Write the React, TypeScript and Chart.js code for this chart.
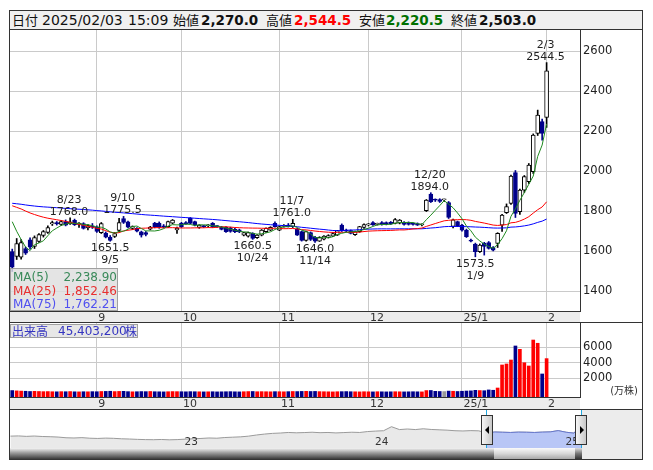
import React, { useEffect, useRef } from 'react';
import { Chart, registerables } from 'chart.js';
Chart.register(...registerables);

// ---------- data ----------
const dates = [
  '8/5','8/6','8/7','8/8','8/9','8/13','8/14','8/15','8/16','8/19','8/20','8/21','8/22','8/23','8/26','8/27','8/28','8/29','8/30',
  '9/2','9/3','9/4','9/5','9/6','9/9','9/10','9/11','9/12','9/13','9/17','9/18','9/19','9/20','9/24','9/25','9/26','9/27','9/30',
  '10/1','10/2','10/3','10/4','10/7','10/8','10/9','10/10','10/11','10/15','10/16','10/17','10/18','10/21','10/22','10/23','10/24','10/25','10/28','10/29','10/30','10/31',
  '11/1','11/5','11/6','11/7','11/8','11/11','11/12','11/13','11/14','11/15','11/18','11/19','11/20','11/21','11/22','11/25','11/26','11/27','11/28','11/29',
  '12/2','12/3','12/4','12/5','12/6','12/9','12/10','12/11','12/12','12/13','12/16','12/17','12/18','12/19','12/20','12/23','12/24','12/25','12/26','12/27','12/30',
  '1/6','1/7','1/8','1/9','1/10','1/14','1/15','1/16','1/17','1/20','1/21','1/22','1/23','1/24','1/27','1/28','1/29','1/30','1/31',
  '2/3',
];
const opens = [
  1600,1575,1572,1615,1658,1625,1650,1680,1695,1738,1745,1736,1750,1738,1756,1735,1740,1718,1728,
  1722,1694,1692,1672,1676,1705,1765,1748,1715,1716,1698,1695,1712,1742,1742,1728,1724,1742,1708,
  1741,1745,1766,1749,1720,1726,1728,1741,1726,1722,1721,1718,1711,1708,1682,1677,1691,1669,1682,1699,1707,1741,
  1707,1726,1732,1724,1711,1699,1655,1694,1671,1652,1662,1672,1677,1682,1732,1707,1704,1684,1699,1720,
  1733,1745,1736,1745,1745,1746,1741,1742,1746,1745,1738,1740,1733,1804,1887,1858,1860,1858,1845,1725,1749,
  1732,1707,1657,1637,1599,1641,1644,1619,1641,1732,1794,1841,1994,1799,1907,1949,1999,2191,2249,
  2270,
];
const highs = [
  1612,1665,1660,1622,1668,1678,1690,1705,1728,1752,1750,1755,1758,1768,1762,1745,1744,1735,1740,
  1728,1745,1698,1680,1695,1766,1775.5,1752,1728,1720,1702,1700,1726,1746,1748,1735,1752,1760,1722,
  1746,1750,1770,1752,1734,1730,1735,1745,1730,1726,1724,1722,1716,1712,1696,1697,1694,1685,1710,1718,1724,1748,
  1727,1735,1740,1761,1716,1702,1702,1698,1676,1674,1680,1684,1694,1706,1738,1712,1708,1702,1726,1738,
  1740,1750,1742,1750,1748,1750,1765,1760,1750,1748,1742,1743,1738,1860,1894,1863,1864,1862,1850,1762,1752,
  1736,1712,1662,1642,1638,1646,1650,1624,1694,1786,1838,1982,2005,1912,1980,2040,2188,2307,2262,
  2544.5,
];
const lows = [
  1500,1560,1562,1585,1612,1615,1645,1672,1690,1730,1732,1730,1728,1735,1730,1720,1712,1708,1715,
  1695,1690,1668,1651.5,1670,1698,1740,1718,1710,1698,1672,1678,1708,1718,1716,1718,1720,1738,1691,
  1720,1735,1738,1728,1716,1720,1722,1720,1720,1708,1696,1696,1694,1694,1678,1672,1660.5,1665,1678,1696,1704,1722,
  1704,1722,1722,1720,1680,1652,1652,1655,1646,1650,1658,1668,1674,1680,1700,1698,1688,1680,1696,1716,
  1728,1730,1732,1732,1733,1735,1738,1738,1732,1732,1732,1730,1728,1800,1845,1850,1845,1850,1765,1718,1724,
  1702,1670,1648,1573.5,1595,1582,1612,1603,1620,1700,1790,1836,1770,1785,1895,1940,1990,2180,2157,
  2220.5,
];
const closes = [
  1522,1640,1645,1592,1622,1670,1684,1700,1720,1744,1738,1750,1732,1748,1734,1742,1716,1730,1722,
  1700,1740,1672,1656,1690,1744,1745,1722,1724,1702,1682,1685,1722,1722,1720,1722,1750,1757,1716,
  1724,1738,1741,1732,1732,1724,1730,1724,1724,1711,1699,1700,1699,1698,1694,1694,1666,1682,1707,1716,1721,1724,
  1724,1730,1724,1741,1682,1656,1699,1660,1652,1671,1677,1680,1690,1704,1704,1702,1690,1699,1724,1735,
  1735,1733,1738,1735,1736,1738,1760,1757,1735,1736,1736,1732,1734,1857,1849,1857,1850,1858,1770,1758,1727,
  1707,1674,1652,1599,1632,1626,1616,1607,1691,1782,1824,1977,1791,1907,1974,2032,2182,2282,2191,
  2503,
];
// closes before the first visible day (feed the moving averages' first values)
const priorCloses = [
  1820,1835,1850,1842,1860,1855,1838,1829,1841,1852,1866,1870,1858,1846,1833,1828,1840,1851,1862,1857,
  1849,1836,1842,1855,1868,1872,1860,1848,1839,1831,1826,1838,1847,1853,1861,1858,1844,1837,1842,1850,
  1856,1849,1841,1835,1843,1852,1860,1855,1848,1842,
  1838,1845,1852,1860,1868,1862,1855,1847,1840,1836,1843,1850,1858,1865,1860,1852,1845,1838,1832,1825,
  1880,1850,1780,1713,
];
// volume in 万株
const volumes = [
  420,380,350,330,300,320,300,280,290,270,260,280,270,290,260,250,270,260,280,
  270,300,310,330,290,310,320,280,260,270,290,280,300,270,260,250,270,290,280,
  270,260,280,270,260,250,260,270,250,260,270,280,260,250,270,290,300,270,280,270,260,280,
  270,260,280,300,290,310,320,300,310,280,270,260,250,270,280,290,270,260,250,270,
  260,250,270,260,250,260,270,260,250,260,270,260,250,420,430,320,300,290,350,330,300,
  330,360,380,450,420,400,500,460,750,3720,3850,4360,6170,5740,4010,3590,6940,6520,2560,
  4540,
];
const monthTicks = [19, 38, 60, 80, 101, 120];
const monthLabels = ['9', '10', '11', '12', '25/1', '2'];
const priceTicks = [1400, 1600, 1800, 2000, 2200, 2400, 2600];
const volumeTicks = [2000, 4000, 6000];
const highMarks = [13, 25, 63, 94, 120];
const lowMarks = [22, 54, 68, 104];
// long-range navigator (half-month steps from Feb 2022)
const navStart = 1.1;
const navValues = [
  1380,1400,1360,1390,1350,1330,1300,1240,1220,1250,1200,1180,1210,1190,1150,1130,1100,1080,1070,1090,
  1060,1080,1120,1150,1180,1220,1200,1260,1290,1320,1380,1480,1560,1620,1650,1700,1670,1690,1720,1680,
  1700,1660,1690,1720,1700,1780,1820,1850,2200,1950,2000,1950,2020,1960,1930,1900,1850,1830,1860,1840,
  1650,1740,1720,1700,1730,1720,1700,1730,1750,1860,1720,1640,2503,
];
const navYears = ['23', '24', '25'];
const navYearPos = [12, 24, 36];
const navWindowFrom = 60;

const N_PAD = 7;
const GRID = '#cacaca';
const FONT = '"DejaVu Sans", "Noto Sans CJK JP", sans-serif';
const CJK = '"Noto Sans CJK JP", "DejaVu Sans", sans-serif';

function movingAverage(n: number) {
  const all = priorCloses.concat(closes);
  const off = priorCloses.length;
  return closes.map((_, i) => {
    let s = 0;
    for (let k = 0; k < n; k++) s += all[off + i - k];
    return s / n;
  });
}

const labels = [...dates, ...Array(N_PAD).fill('')];

function xScale(h: number) {
  return {
    type: 'category',
    offset: true,
    grid: {
      offset: false,
      drawTicks: false,
      color: (c: any) => (monthTicks.includes(c.index) ? GRID : 'rgba(0,0,0,0)'),
    },
    border: { display: true, color: '#333' },
    ticks: {
      autoSkip: false,
      maxRotation: 0,
      minRotation: 0,
      padding: 1,
      align: 'start',
      labelOffset: 1.5,
      color: '#333',
      font: { family: FONT, size: 11 },
      callback: (_v: any, i: number) => {
        const k = monthTicks.indexOf(i);
        return k >= 0 ? monthLabels[k] : '';
      },
    },
    afterFit: (s: any) => {
      s.height = h;
      s.paddingLeft = 0;
      s.paddingRight = 0;
    },
  };
}

function bandPlugin(id: string) {
  return {
    id,
    beforeDraw(chart: any) {
      const { ctx, chartArea: ca } = chart;
      ctx.save();
      ctx.fillStyle = '#ececec';
      ctx.fillRect(ca.left, ca.bottom, ca.right - ca.left, chart.height - ca.bottom);
      ctx.restore();
    },
  };
}

const annotPlugin = {
  id: 'annot',
  afterDatasetsDraw(chart: any) {
    const { ctx } = chart;
    const xs = chart.scales.x, ys = chart.scales.y;
    ctx.save();
    ctx.font = `11px ${FONT}`;
    ctx.textAlign = 'center';
    ctx.textBaseline = 'alphabetic';
    ctx.fillStyle = '#222';
    for (const i of highMarks) {
      const px = xs.getPixelForValue(i) - 1;
      const py = ys.getPixelForValue(highs[i]);
      ctx.fillText(highs[i].toFixed(1), px, py - 3);
      ctx.fillText(dates[i], px, py - 15);
    }
    for (const i of lowMarks) {
      const px = xs.getPixelForValue(i);
      const py = ys.getPixelForValue(lows[i]);
      ctx.fillText(lows[i].toFixed(1), px, py + 10);
      ctx.fillText(dates[i], px, py + 22);
    }
    ctx.restore();
  },
};

const unitPlugin = {
  id: 'unit',
  afterDraw(chart: any) {
    const { ctx } = chart;
    ctx.save();
    ctx.font = `10px ${FONT}`;
    ctx.textAlign = 'right';
    ctx.fillStyle = '#333';
    ctx.fillText('(万株)', chart.width - 5, 71);
    ctx.restore();
  },
};

const navPlugin = {
  id: 'navlabels',
  afterDatasetsDraw(chart: any) {
    const { ctx } = chart;
    const xs = chart.scales.x;
    ctx.save();
    ctx.font = `10.5px ${FONT}`;
    ctx.textAlign = 'left';
    ctx.fillStyle = '#333';
    navYears.forEach((t, k) => ctx.fillText(t, xs.getPixelForValue(navYearPos[k]) + 1, 35));
    ctx.restore();
  },
};

export default function App() {
  const priceRef = useRef<HTMLCanvasElement>(null);
  const volRef = useRef<HTMLCanvasElement>(null);
  const navRef = useRef<HTMLCanvasElement>(null);

  useEffect(() => {
    const up = closes.map((c, i) => c >= opens[i]);
    const ma5 = movingAverage(5);
    const ma25 = movingAverage(25);
    const ma75 = movingAverage(75);

    const price = new Chart(priceRef.current!, {
      type: 'bar',
      data: {
        labels,
        datasets: [
          { type: 'line', data: ma5, borderColor: '#1f8a1f', borderWidth: 1, pointRadius: 0, order: 1 } as any,
          { type: 'line', data: ma25, borderColor: '#ff0000', borderWidth: 1, pointRadius: 0, order: 1 } as any,
          { type: 'line', data: ma75, borderColor: '#0000ff', borderWidth: 1, pointRadius: 0, order: 1 } as any,
          {
            type: 'bar',
            data: opens.map((o, i) => [o, closes[i]]),
            backgroundColor: up.map((u) => (u ? '#ffffff' : '#00008b')),
            borderColor: up.map((u) => (u ? '#000000' : '#00008b')),
            borderWidth: 1,
            borderSkipped: false,
            barThickness: 4,
            minBarLength: 1,
            grouped: false,
            order: 2,
          } as any,
          {
            type: 'bar',
            data: highs.map((h, i) => [lows[i], h]),
            backgroundColor: up.map((u) => (u ? '#000000' : '#00008b')),
            barThickness: 1,
            grouped: false,
            order: 3,
          } as any,
        ],
      },
      options: {
        responsive: false,
        animation: false,
        devicePixelRatio: 1,
        layout: { padding: 0 },
        plugins: { legend: { display: false }, tooltip: { enabled: false } },
        scales: {
          x: xScale(12) as any,
          y: {
            type: 'linear',
            position: 'right',
            min: 1302.5,
            max: 2707.5,
            afterBuildTicks: (s: any) => {
              s.ticks = priceTicks.map((v) => ({ value: v }));
            },
            grid: { color: GRID, drawTicks: false },
            border: { display: true, color: '#333' },
            ticks: { padding: 3, color: '#222', font: { family: FONT, size: 11.5 }, callback: (v: any) => String(v) },
            afterFit: (s: any) => {
              s.width = 63;
              s.paddingTop = 0;
              s.paddingBottom = 0;
            },
          } as any,
        },
      },
      plugins: [bandPlugin('band1'), annotPlugin],
    });

    const vol = new Chart(volRef.current!, {
      type: 'bar',
      data: {
        labels,
        datasets: [
          {
            data: volumes,
            base: -410,
            backgroundColor: closes.map((c, i) => (c > opens[i] ? '#ff0000' : c < opens[i] ? '#00008b' : '#999999')),
            barThickness: 3,
          } as any,
        ],
      },
      options: {
        responsive: false,
        animation: false,
        devicePixelRatio: 1,
        layout: { padding: 0 },
        plugins: { legend: { display: false }, tooltip: { enabled: false } },
        scales: {
          x: xScale(13) as any,
          y: {
            type: 'linear',
            position: 'right',
            min: -410,
            max: 9135,
            afterBuildTicks: (s: any) => {
              s.ticks = volumeTicks.map((v) => ({ value: v }));
            },
            grid: { color: GRID, drawTicks: false },
            border: { display: true, color: '#333' },
            ticks: { padding: 3, color: '#222', font: { family: FONT, size: 11.5 }, callback: (v: any) => String(v) },
            afterFit: (s: any) => {
              s.width = 63;
              s.paddingTop = 0;
              s.paddingBottom = 0;
            },
          } as any,
        },
      },
      plugins: [bandPlugin('band2'), unitPlugin],
    });

    const navPts = navValues.map((v, i) => ({ x: navStart + i * 0.5, y: v }));
    const nav = new Chart(navRef.current!, {
      type: 'line',
      data: {
        datasets: [
          {
            data: navPts.slice(navWindowFrom),
            borderColor: '#6677cc',
            backgroundColor: '#b8c6f6',
            fill: 'start',
            borderWidth: 1,
            pointRadius: 0,
            order: 0,
          },
          { data: navPts, borderColor: '#9a9a9a', backgroundColor: '#e9e9e9', fill: 'start', borderWidth: 1, pointRadius: 0, order: 1 },
        ],
      },
      options: {
        responsive: false,
        animation: false,
        devicePixelRatio: 1,
        layout: { padding: 0 },
        plugins: { legend: { display: false }, tooltip: { enabled: false } },
        scales: {
          x: { type: 'linear', display: false, min: 1.07, max: 37.1 },
          y: { type: 'linear', display: false, min: 350, max: 3650 },
        },
      },
      plugins: [navPlugin],
    });

    return () => {
      price.destroy();
      vol.destroy();
      nav.destroy();
    };
  }, []);

  const abs = (l: number, t: number, w: number, h: number, extra: any = {}) => ({
    position: 'absolute' as const,
    left: l,
    top: t,
    width: w,
    height: h,
    ...extra,
  });
  const hdr = (l: number, text: string, kind: 'cjk' | 'num' | 'bold', color = '#111') => (
    <span
      style={{
        position: 'absolute',
        left: l,
        top: 11,
        fontFamily: kind === 'cjk' ? CJK : FONT,
        fontSize: kind === 'cjk' ? 13 : kind === 'bold' ? 13.5 : 14,
        lineHeight: '18px',
        fontWeight: kind === 'bold' ? 'bold' : 'normal',
        color,
        whiteSpace: 'nowrap',
      }}
    >
      {text}
    </span>
  );
  const maRow = (top: number, name: string, value: string, color: string) => (
    <div style={{ position: 'absolute', left: 2, top, width: 104, height: 14, color, fontSize: 12, lineHeight: '14px' }}>
      <span>{name}</span>
      <span style={{ position: 'absolute', right: 0 }}>{value}</span>
    </div>
  );

  return (
    <div style={abs(0, 0, 653, 470, { background: '#fff', fontFamily: FONT, overflow: 'hidden' })}>
      {/* header */}
      <div style={abs(9, 10, 634, 20, { background: '#f0f0f0', boxSizing: 'border-box', borderBottom: '1px solid #333' })} />
      {hdr(12, '日付', 'cjk')}
      {hdr(42, '2025/02/03', 'num')}
      {hdr(128, '15:09', 'num')}
      {hdr(173, '始値', 'cjk')}
      {hdr(201, '2,270.0', 'bold')}
      {hdr(266, '高値', 'cjk')}
      {hdr(294, '2,544.5', 'bold', '#ff0000')}
      {hdr(359, '安値', 'cjk')}
      {hdr(386, '2,220.5', 'bold', '#007000')}
      {hdr(451, '終値', 'cjk')}
      {hdr(479, '2,503.0', 'bold')}

      <canvas ref={priceRef} width={633} height={293} style={abs(10, 30, 633, 293)} />
      <canvas ref={volRef} width={633} height={87} style={abs(10, 323, 633, 87)} />

      {/* separators */}
      <div style={abs(9, 322, 634, 1, { background: '#333' })} />
      <div style={abs(9, 409, 634, 1, { background: '#333' })} />

      {/* MA legend */}
      <div
        style={abs(10, 268, 108, 43, {
          background: 'rgba(222,222,222,0.82)',
          border: '1px solid #a0a0a0',
          boxSizing: 'border-box',
        })}
      >
        {maRow(1, 'MA(5)', '2,238.90', '#3a8a5a')}
        {maRow(14.5, 'MA(25)', '1,852.46', '#e83030')}
        {maRow(28, 'MA(75)', '1,762.21', '#5050f0')}
      </div>

      {/* volume legend */}
      <div
        style={abs(10, 324, 128, 14, {
          background: 'rgba(228,228,228,0.9)',
          border: '1px solid #a0a0a0',
          boxSizing: 'border-box',
          color: '#3535c0',
          fontSize: 12,
          lineHeight: '12px',
          whiteSpace: 'nowrap',
        })}
      >
        <span style={{ position: 'absolute', left: 1, fontFamily: CJK }}>出来高</span>
        <span style={{ position: 'absolute', left: 47 }}>45,403,200</span>
        <span style={{ position: 'absolute', left: 114, fontFamily: CJK }}>株</span>
      </div>

      {/* navigator */}
      <div style={abs(582, 410, 61, 50, { background: '#ececec' })} />
      <canvas ref={navRef} width={572} height={38} style={abs(10, 410, 572, 38)} />
      <div style={abs(10, 448, 484, 11, { background: 'linear-gradient(#f4f4f4, #9a9a9a 45%, #3a3a3a)' })} />
      <div style={abs(494, 448, 81, 11, { background: 'linear-gradient(#fafafa, #d8d8d8 50%, #a8a8a8)' })} />
      <div style={abs(575, 448, 7, 11, { background: 'linear-gradient(#ddd, #777 50%, #333)' })} />
      <div style={abs(486, 410, 1, 38, { background: '#22a8e0' })} />
      <div style={abs(581, 410, 1, 38, { background: '#22a8e0' })} />
      <div
        style={abs(481, 415, 12, 30, {
          background: 'linear-gradient(to right, #f6f6f6, #c8c8c8)',
          border: '1px solid #333',
          boxSizing: 'border-box',
        })}
      >
        <div style={{ position: 'absolute', left: 3, top: 10, width: 0, height: 0, borderTop: '4px solid transparent', borderBottom: '4px solid transparent', borderRight: '4px solid #000' }} />
      </div>
      <div
        style={abs(575, 415, 12, 30, {
          background: 'linear-gradient(to right, #f6f6f6, #c8c8c8)',
          border: '1px solid #333',
          boxSizing: 'border-box',
        })}
      >
        <div style={{ position: 'absolute', left: 4, top: 10, width: 0, height: 0, borderTop: '4px solid transparent', borderBottom: '4px solid transparent', borderLeft: '4px solid #000' }} />
      </div>

      {/* outer frame */}
      <div style={abs(9, 10, 634, 450, { border: '1px solid #333', boxSizing: 'border-box', pointerEvents: 'none' })} />
    </div>
  );
}
